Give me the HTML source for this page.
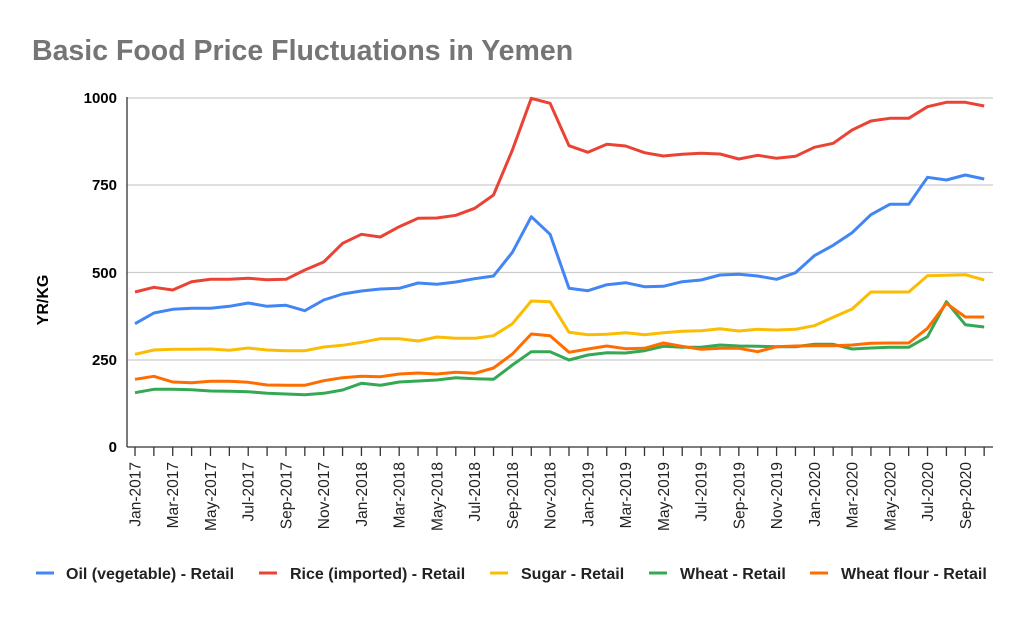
<!DOCTYPE html>
<html><head><meta charset="utf-8"><style>
body{margin:0;background:#fff;}
svg text{font-family:"Liberation Sans",Arial,sans-serif;}
</style></head><body>
<svg id="s" width="1024" height="614" xmlns="http://www.w3.org/2000/svg">
<rect width="1024" height="614" fill="#fff"/>
<text x="32" y="60" font-size="28.5" font-weight="bold" fill="#757575">Basic Food Price Fluctuations in Yemen</text>
<text transform="translate(48,300) rotate(-90)" font-size="16" font-weight="bold" text-anchor="middle" fill="#000">YR/KG</text>
<g font-size="15" font-weight="bold" text-anchor="end" fill="#000">
<text x="117" y="103">1000</text><text x="117" y="190">750</text><text x="117" y="278">500</text><text x="117" y="365">250</text><text x="117" y="452">0</text>
</g>
<g stroke="#ccc" stroke-width="1.3">
<line x1="127" x2="993" y1="98" y2="98"/><line x1="127" x2="993" y1="185" y2="185"/><line x1="127" x2="993" y1="272.5" y2="272.5"/><line x1="127" x2="993" y1="360" y2="360"/>
</g>
<line x1="127" y1="97" x2="127" y2="447" stroke="#333" stroke-width="1.3"/>
<line x1="127" y1="447" x2="993" y2="447" stroke="#333" stroke-width="1.3"/>
<g id="ticks"></g><g id="labs"></g><g id="lines"></g>
<g font-size="16" font-weight="bold" fill="#222">
<line x1="36" x2="54" y1="573" y2="573" stroke="#4285f4" stroke-width="3"/><text x="66" y="579">Oil (vegetable) - Retail</text>
<line x1="259" x2="277" y1="573" y2="573" stroke="#ea4335" stroke-width="3"/><text x="290" y="579">Rice (imported) - Retail</text>
<line x1="490" x2="508" y1="573" y2="573" stroke="#fbbc04" stroke-width="3"/><text x="521" y="579">Sugar - Retail</text>
<line x1="649" x2="667" y1="573" y2="573" stroke="#34a853" stroke-width="3"/><text x="680" y="579">Wheat - Retail</text>
<line x1="810" x2="828" y1="573" y2="573" stroke="#ff6d01" stroke-width="3"/><text x="841" y="579">Wheat flour - Retail</text>
</g>
</svg>
<script>
var ns="http://www.w3.org/2000/svg";
function el(t,a,p,txt){var e=document.createElementNS(ns,t);for(var k in a)e.setAttribute(k,a[k]);if(txt)e.textContent=txt;document.getElementById(p).appendChild(e);}
var x0=135,dx=18.87;
var m=["Jan","Feb","Mar","Apr","May","Jun","Jul","Aug","Sep","Oct","Nov","Dec"];
for(var i=0;i<46;i++){var x=x0+i*dx;el("line",{x1:x,x2:x,y1:447,y2:456,stroke:"#333","stroke-width":1.3},"ticks");
if(i%2==0){var lab=m[i%12]+"-"+(2017+Math.floor(i/12));el("text",{transform:"translate("+(x+5.5)+",462) rotate(-90)","text-anchor":"end","font-size":"15.5",fill:"#222"},"labs",lab);}}
var D={
"#ea4335":[636,622,630,605,598,598,595,599,598,570,546,490,463,471,440,415,414,406,385,345,210,55,70,197,217,193,198,218,228,223,220,222,237,226,235,229,202,190,150,123,115,115,80,67,67,78],
"#4285f4":[731,699,688,685,685,679,669,679,676,692,660,642,633,627,625,609,613,606,596,588,517,410,463,625,632,614,608,620,619,605,600,585,583,588,598,578,527,496,458,404,373,373,292,300,285,297],
"#fbbc04":[823,810,808,808,807,811,804,810,812,812,801,796,787,776,776,783,771,775,775,767,731,663,665,757,764,763,758,764,758,754,752,746,753,748,750,748,737,712,687,636,636,636,587,586,584,600],
"#34a853":[938,928,928,929,933,934,935,940,942,944,940,930,910,916,906,903,900,893,896,898,855,815,815,840,825,818,819,812,799,802,802,795,798,799,800,800,793,793,807,804,802,802,770,665,734,741],
"#ff6d01":[898,889,906,908,904,904,907,915,916,916,902,893,889,890,882,879,882,877,880,864,822,762,767,817,807,798,806,805,789,799,808,805,805,815,800,798,797,797,795,790,789,789,745,670,711,711]};
for(var c in D){var pts=D[c].map(function(v,i){return (x0+i*dx).toFixed(1)+","+(v/3+80).toFixed(1);}).join(" ");
el("polyline",{points:pts,fill:"none",stroke:c,"stroke-width":3,"stroke-linejoin":"round"},"lines");}
</script>
</body></html>
